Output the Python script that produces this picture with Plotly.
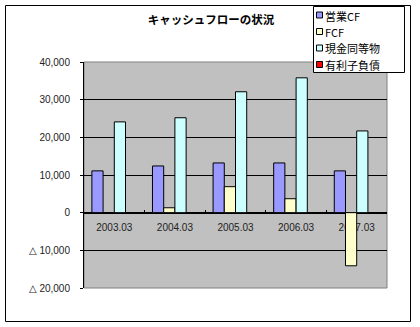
import plotly.graph_objects as go

# Fiscal periods and cash-flow figures (million yen)
periods = ["2003.03", "2004.03", "2005.03", "2006.03", "2007.03"]
operating_cf = [11100, 12400, 13200, 13200, 11100]
free_cf = [0, 1300, 6900, 3700, -14100]
cash_equiv = [24100, 25200, 32100, 35800, 21700]
interest_debt = [0, 0, 0, 0, 0]

series_names = ["営業CF", "FCF", "現金同等物", "有利子負債"]
series_colors = ["#9999FF", "#FFFFCC", "#CCFFFF", "#FF0000"]

y_tick_vals = [40000, 30000, 20000, 10000, 0, -10000, -20000]
y_tick_text = ["40,000", "30,000", "20,000", "10,000", "0", "△ 10,000", "△ 20,000"]

W, H = 420, 327
L, R, T, B = 84, 33, 62, 39  # plot-area margins in px

fig = go.Figure()
for name, vals, col in zip(series_names, [operating_cf, free_cf, cash_equiv, interest_debt], series_colors):
    fig.add_trace(go.Bar(
        name=name, x=periods, y=vals,
        marker=dict(color=col, line=dict(color="black", width=1)),
        showlegend=False,
    ))

pw = W - L - R
ph = H - T - B
def px_to_paper_x(px):
    return (px - L) / pw
def px_to_paper_y(py):
    return (H - B - py) / ph

ymin, ymax = -20000, 40000
zero_pos = (0 - ymin) / (ymax - ymin)

shapes = [
    # plot-area frame
    dict(type="rect", xref="paper", yref="paper", x0=0, x1=1, y0=0, y1=1,
         line=dict(color="#808080", width=1), layer="below"),
    # outer chart border
    dict(type="rect", xref="paper", yref="paper",
         x0=px_to_paper_x(5.5), x1=px_to_paper_x(410.5),
         y0=px_to_paper_y(321.5), y1=px_to_paper_y(5.5),
         line=dict(color="black", width=1)),
    # legend box
    dict(type="rect", xref="paper", yref="paper",
         x0=px_to_paper_x(313.5), x1=px_to_paper_x(404.5),
         y0=px_to_paper_y(72.5), y1=px_to_paper_y(6.5),
         fillcolor="white", line=dict(color="black", width=1), layer="above"),
]
annotations = []
row_centers = [15, 31.5, 48, 64.5]
for name, col, cy in zip(series_names, series_colors, row_centers):
    shapes.append(dict(
        type="rect", xref="paper", yref="paper",
        x0=px_to_paper_x(316.5), x1=px_to_paper_x(322.5),
        y0=px_to_paper_y(cy + 3), y1=px_to_paper_y(cy - 3),
        fillcolor=col, line=dict(color="black", width=1), layer="above",
    ))
    annotations.append(dict(
        xref="paper", yref="paper", x=px_to_paper_x(324), y=px_to_paper_y(cy),
        xanchor="left", yanchor="middle", showarrow=False, text=name,
        height=15, borderpad=0,
        font=dict(family="Noto Sans CJK JP", size=11, color="black"),
    ))

fig.update_layout(
    width=W, height=H,
    margin=dict(l=L, r=R, t=T, b=B, pad=0),
    paper_bgcolor="white",
    plot_bgcolor="#C0C0C0",
    barmode="group",
    bargap=0.26,
    bargroupgap=0,
    showlegend=False,
    font=dict(family="Liberation Sans, DejaVu Sans", size=10, color="#222"),
    title=dict(
        text="<b>キャッシュフローの状況</b>",
        font=dict(family="Noto Sans CJK JP", size=11.5, color="black"),
        x=211 / W, xanchor="center", y=1 - 20 / H, yanchor="middle",
    ),
    xaxis=dict(
        type="category",
        anchor="free", position=zero_pos,
        showline=True, linecolor="black", linewidth=1,
        ticks="inside", ticklen=3, tickcolor="black", tickson="boundaries",
        showgrid=False,
        layer="below traces",
        tickfont=dict(family="Liberation Sans", size=10, color="#222"),
        ticklabelstandoff=5,
    ),
    yaxis=dict(
        range=[ymin, ymax],
        tickvals=y_tick_vals, ticktext=y_tick_text,
        showline=True, linecolor="black", linewidth=1,
        ticks="outside", ticklen=3, tickcolor="black",
        ticklabelstandoff=8,
        showgrid=True, gridcolor="black", gridwidth=1,
        zeroline=True, zerolinecolor="black", zerolinewidth=1,
        tickfont=dict(family="Liberation Sans, DejaVu Sans", size=10, color="#222"),
    ),
    shapes=shapes,
    annotations=annotations,
)

fig.write_html("out.html")
